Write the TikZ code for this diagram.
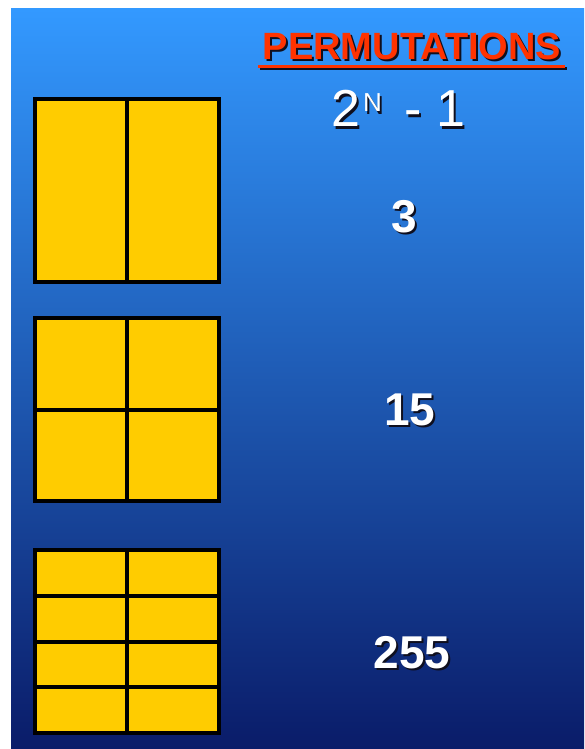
\documentclass[tikz,border=0pt]{standalone}
\usepackage{fontspec}
\setmainfont{Liberation Sans}

\definecolor{slidetop}{RGB}{51,153,255}
\definecolor{slidemid}{RGB}{38,112,210}
\definecolor{slidebot}{RGB}{10,28,105}
\definecolor{cellyellow}{RGB}{255,204,0}
\definecolor{titlered}{RGB}{255,51,0}
\definecolor{dropshade}{RGB}{15,15,30}

% text with a small drop shadow behind it
\newcommand{\dropped}[1]{\leavevmode\rlap{\kern2pt\raisebox{-2pt}{\color{dropshade}#1}}#1}
\newcommand{\permformula}{2\kern3pt\raisebox{15pt}{\fontsize{26}{26}\selectfont N}\hspace{23pt}-\hspace{14pt}1}

\tikzset{
  gridline/.style={draw=black, line width=4pt},
  titletext/.style={text=titlered, inner sep=0pt, anchor=base,
    font=\fontsize{38}{38}\selectfont\bfseries},
  formula/.style={text=white, inner sep=0pt, anchor=base west,
    font=\fontsize{52}{52}\selectfont},
  countlabel/.style={text=white, inner sep=0pt, anchor=base,
    font=\fontsize{46}{46}\selectfont\bfseries},
}

\begin{document}
\begin{tikzpicture}[x=1pt, y=-1pt]
\useasboundingbox (0,0) rectangle (584,749);
\fill[white] (0,0) rectangle (584,749);

% slide background
\shade[top color=slidetop, middle color=slidemid, bottom color=slidebot]
  (11,9) rectangle (584,748);

% heading with underline
\draw[dropshade, line width=3pt] (260,68.5) -- (567,68.5);
\draw[titlered, line width=3pt] (258,66.5) -- (565,66.5);
\node[titletext] (title) at (412,60) {\dropped{PERMUTATIONS}};

% formula
\node[formula] (formula) at (331,127) {\dropped{\permformula}};

% yellow boxes, split into 2 columns and 1, 2, 4 rows
\foreach \ytop/\rows in {99/1, 318/2, 550/4} {
    \pgfmathsetmacro{\cellh}{183/\rows}
    \fill[cellyellow] (35,\ytop) rectangle (219,\ytop+183);
    \draw[gridline] (127,\ytop) -- (127,\ytop+183);
    \foreach \r in {0,...,\rows} {
        \draw[gridline] (35,\ytop+\r*\cellh) -- (219,\ytop+\r*\cellh);
    }
    \draw[gridline] (35,\ytop) rectangle (219,\ytop+183);
}

% counts
\foreach \val/\xc/\yb [count=\i] in {3/404/232, 15/410/425, 255/412/668} {
    \node[countlabel] (count\i) at (\xc,\yb) {\dropped{\val}};
}
\end{tikzpicture}
\end{document}
